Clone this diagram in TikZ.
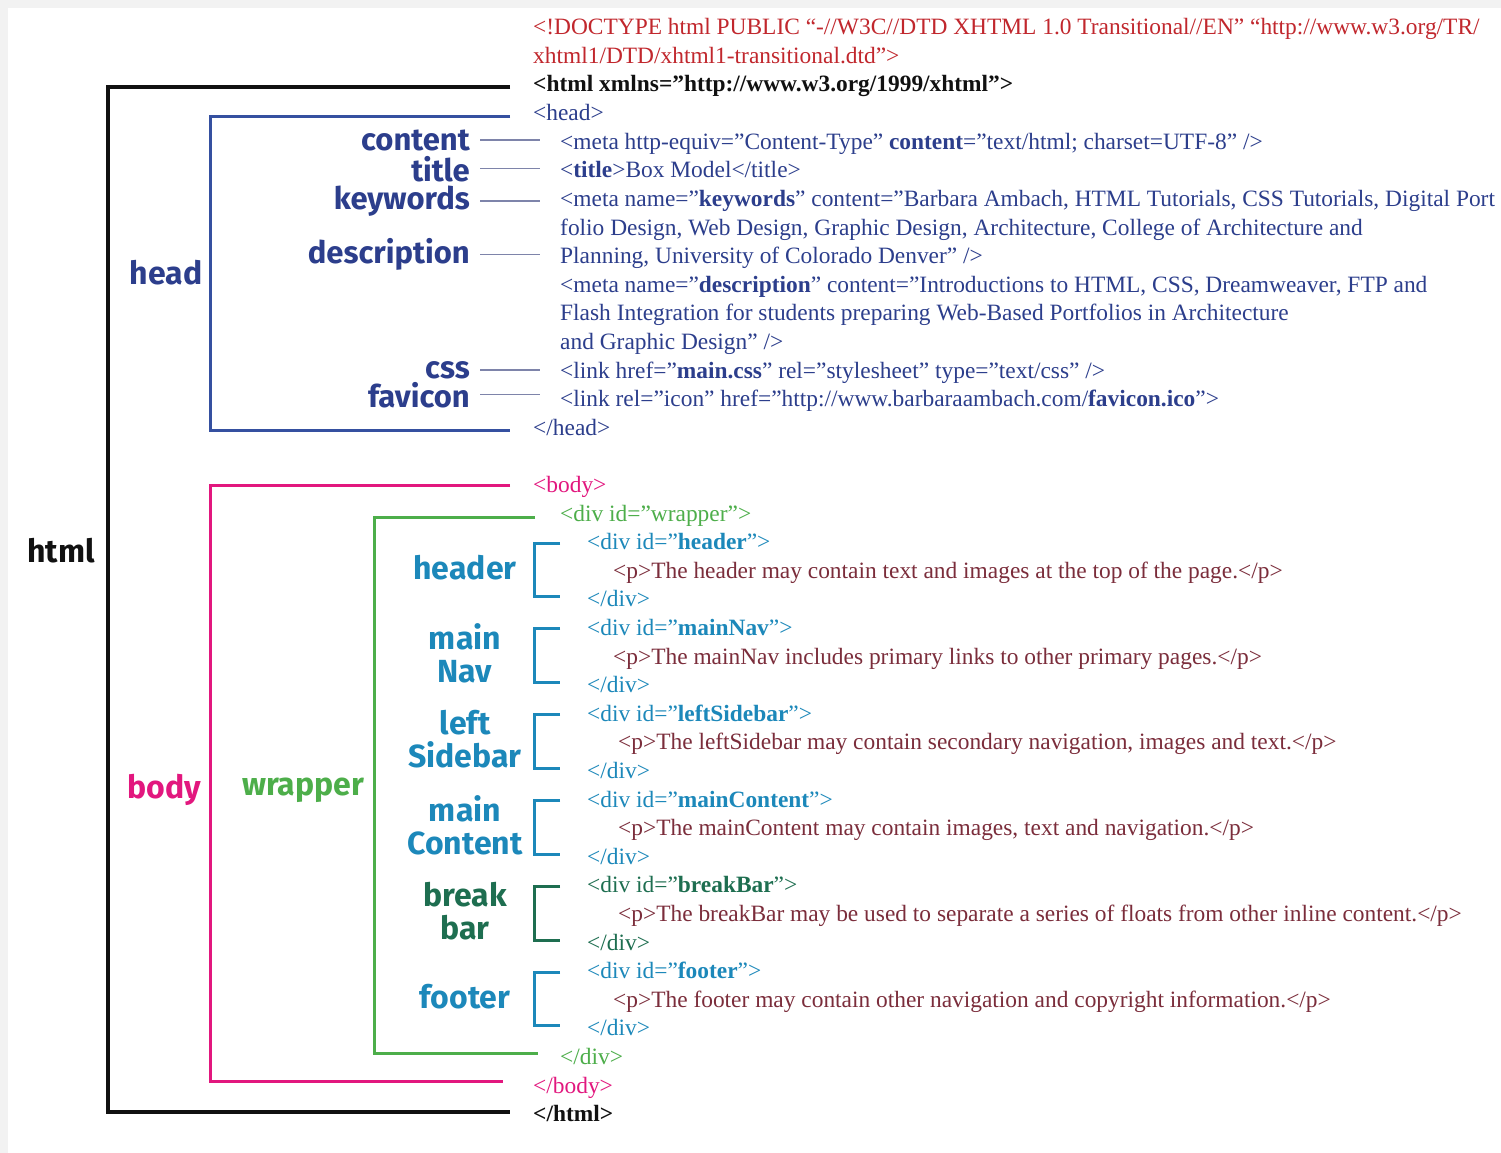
\documentclass[tikz,border=0pt]{standalone}
\usepackage{fontspec}
\setmainfont{Liberation Serif}
\newfontfamily\labelfont{Fira Sans}
\usepackage{tikz}
\definecolor{bgray}{HTML}{F2F2F2}
\definecolor{doc}{HTML}{C1272D}
\definecolor{htm}{HTML}{111111}
\definecolor{hed}{HTML}{2C3E8C}
\definecolor{hedline}{HTML}{3550A0}
\definecolor{hookc}{HTML}{7E84AA}
\definecolor{bod}{HTML}{E2177E}
\definecolor{wrap}{HTML}{4DAE4A}
\definecolor{divc}{HTML}{1C88BA}
\definecolor{brk}{HTML}{1E6E50}
\definecolor{para}{HTML}{7B2D3B}
\tikzset{
  codeline/.style={anchor=base west, inner sep=0pt, font=\fontsize{23.4}{27}\selectfont},
  tag/.style={anchor=base east, inner sep=0pt, text=hed, font=\labelfont\bfseries\fontsize{31}{33}\selectfont},
  lbl/.style={inner sep=0pt, align=center, font=\labelfont\bfseries\fontsize{32}{33}\selectfont},
  brace/.style={line width=3pt, line cap=butt, line join=miter},
  hook/.style={draw=hookc, line width=1.6pt, shorten <=10pt, shorten >=20pt},
}
\begin{document}
\begin{tikzpicture}[x=1pt, y=-1pt]
  \fill[bgray] (0,0) rectangle (1501,1153);
  \fill[white] (8,8) rectangle (1501,1153);

  \node[codeline, text=doc] (doc1) at (533,34.8) {<!DOCTYPE html PUBLIC “-//W3C//DTD XHTML 1.0 Transitional//EN” “http://www.w3.org/TR/};
  \node[codeline, text=doc] (doc2) at (533,63.4) {xhtml1/DTD/xhtml1-transitional.dtd”>};
  \node[codeline, text=htm] (htmlo) at (533,92) {\bfseries <html xmlns=”http://www.w3.org/1999/xhtml”>};
  \node[codeline, text=hed] (heado) at (533,120.6) {<head>};
  \node[codeline, text=hed] (mcontent) at (560,149.2) {<meta http-equiv=”Content-Type” \textbf{content}=”text/html; charset=UTF-8” />};
  \node[codeline, text=hed] (mtitle) at (560,177.8) {<\textbf{title}>Box Model</title>};
  \node[codeline, text=hed] (mkey) at (560,206.4) {<meta name=”\textbf{keywords}” content=”Barbara Ambach, HTML Tutorials, CSS Tutorials, Digital Port};
  \node[codeline, text=hed] (mkey2) at (560,235) {folio Design, Web Design, Graphic Design, Architecture, College of Architecture and};
  \node[codeline, text=hed] (mkey3) at (560,263.6) {Planning, University of Colorado Denver” />};
  \node[codeline, text=hed] (mdesc) at (560,292.2) {<meta name=”\textbf{description}” content=”Introductions to HTML, CSS, Dreamweaver, FTP and};
  \node[codeline, text=hed] (mdesc2) at (560,320.8) {Flash Integration for students preparing Web-Based Portfolios in Architecture};
  \node[codeline, text=hed] (mdesc3) at (560,349.4) {and Graphic Design” />};
  \node[codeline, text=hed] (mcss) at (560,378) {<link href=”\textbf{main.css}” rel=”stylesheet” type=”text/css” />};
  \node[codeline, text=hed] (mfav) at (560,406.6) {<link rel=”icon” href=”http://www.barbaraambach.com/\textbf{favicon.ico}”>};
  \node[codeline, text=hed] (headc) at (533,435.2) {</head>};

  \node[codeline, text=bod] (bodyo) at (533,492.4) {<body>};
  \node[codeline, text=wrap] (wrapo) at (560,521) {<div id=”wrapper”>};
  \node[codeline, text=divc] (hdro) at (587,549.6) {<div id=”\textbf{header}”>};
  \node[codeline, text=para] (hdrp) at (613,578.2) {<p>The header may contain text and images at the top of the page.</p>};
  \node[codeline, text=divc] (hdrc) at (587,606.8) {</div>};
  \node[codeline, text=divc] (navo) at (587,635.4) {<div id=”\textbf{mainNav}”>};
  \node[codeline, text=para] (navp) at (613,664) {<p>The mainNav includes primary links to other primary pages.</p>};
  \node[codeline, text=divc] (navc) at (587,692.6) {</div>};
  \node[codeline, text=divc] (sideo) at (587,721.2) {<div id=”\textbf{leftSidebar}”>};
  \node[codeline, text=para] (sidep) at (618,749.8) {<p>The leftSidebar may contain secondary navigation, images and text.</p>};
  \node[codeline, text=divc] (sidec) at (587,778.4) {</div>};
  \node[codeline, text=divc] (conto) at (587,807) {<div id=”\textbf{mainContent}”>};
  \node[codeline, text=para] (contp) at (618,835.6) {<p>The mainContent may contain images, text and navigation.</p>};
  \node[codeline, text=divc] (contc) at (587,864.2) {</div>};
  \node[codeline, text=brk] (brko) at (587,892.8) {<div id=”\textbf{breakBar}”>};
  \node[codeline, text=para] (brkp) at (618,921.4) {<p>The breakBar may be used to separate a series of floats from other inline content.</p>};
  \node[codeline, text=brk] (brkc) at (587,950) {</div>};
  \node[codeline, text=divc] (foto) at (587,978.6) {<div id=”\textbf{footer}”>};
  \node[codeline, text=para] (fotp) at (613,1007.2) {<p>The footer may contain other navigation and copyright information.</p>};
  \node[codeline, text=divc] (fotc) at (587,1035.8) {</div>};
  \node[codeline, text=wrap] (wrapc) at (560,1064.4) {</div>};
  \node[codeline, text=bod] (bodyc) at (533,1093) {</body>};
  \node[codeline, text=htm] (htmlc) at (533,1121.6) {\bfseries </html>};

  \node[tag] (lcontent) at (470,150) {content};
  \node[tag] (ltitle) at (470,181) {title};
  \node[tag] (lkey) at (470,209.5) {keywords};
  \node[tag] (ldesc) at (470,263.6) {description};
  \node[tag] (lcss) at (470,378) {css};
  \node[tag] (lfav) at (470,407) {favicon};
  \draw[hook] (lcontent.east) -- (lcontent.east -| mcontent.west);
  \draw[hook] (ltitle.east) -- (ltitle.east -| mtitle.west);
  \draw[hook] (lkey.east) -- (lkey.east -| mkey.west);
  \draw[hook] (ldesc.east) -- (ldesc.east -| mdesc.west);
  \draw[hook] (lcss.east) -- (lcss.east -| mcss.west);
  \draw[hook] (lfav.east) -- (lfav.east -| mfav.west);

  \node[lbl, text=htm] (lhtml) at (61,551) {html};
  \node[lbl, text=hed] (lhead) at (166,273) {head};
  \node[lbl, text=bod] (lbody) at (164,790) {body};
  \node[lbl, text=wrap] (lwrap) at (303,790) {wrapper};
  \node[lbl, text=divc] (lhdr) at (465,568) {header};
  \node[lbl, text=divc] (lnav) at (465,653) {main\\Nav};
  \node[lbl, text=divc] (lside) at (465,739) {left\\Sidebar};
  \node[lbl, text=divc] (lcont) at (465,825.5) {main\\Content};
  \node[lbl, text=brk] (lbrk) at (465,911) {break\\bar};
  \node[lbl, text=divc] (lfot) at (465,997) {footer};

  \draw[brace, draw=htm, line width=3.4pt] ([xshift=-23pt,yshift=5pt]htmlo.base west) -- ++(-402pt,0) |- ([xshift=-23pt,yshift=9.6pt]htmlc.base west);
  \draw[brace, draw=hedline] ([xshift=-23pt,yshift=3.6pt]heado.base west) -- ++(-300pt,0) |- ([xshift=-23pt,yshift=5.2pt]headc.base west);
  \draw[brace, draw=bod] ([xshift=-23pt,yshift=7.4pt]bodyo.base west) -- ++(-300pt,0) |- ([xshift=-30pt,yshift=12pt]bodyc.base west);
  \draw[brace, draw=wrap] ([xshift=-25pt,yshift=4pt]wrapo.base west) -- ++(-161pt,0) |- ([xshift=-22pt,yshift=11.4pt]wrapc.base west);
  \draw[brace, draw=divc] ([xshift=-27pt,yshift=6.5pt]hdro.base west) -- ++(-26pt,0) |- ([xshift=-27pt,yshift=10pt]hdrc.base west);
  \draw[brace, draw=divc] ([xshift=-27pt,yshift=6.5pt]navo.base west) -- ++(-26pt,0) |- ([xshift=-27pt,yshift=10pt]navc.base west);
  \draw[brace, draw=divc] ([xshift=-27pt,yshift=6.5pt]sideo.base west) -- ++(-26pt,0) |- ([xshift=-27pt,yshift=10pt]sidec.base west);
  \draw[brace, draw=divc] ([xshift=-27pt,yshift=6.5pt]conto.base west) -- ++(-26pt,0) |- ([xshift=-27pt,yshift=10pt]contc.base west);
  \draw[brace, draw=brk] ([xshift=-27pt,yshift=6.5pt]brko.base west) -- ++(-26pt,0) |- ([xshift=-27pt,yshift=10pt]brkc.base west);
  \draw[brace, draw=divc] ([xshift=-27pt,yshift=6.5pt]foto.base west) -- ++(-26pt,0) |- ([xshift=-27pt,yshift=10pt]fotc.base west);
\end{tikzpicture}
\end{document}
